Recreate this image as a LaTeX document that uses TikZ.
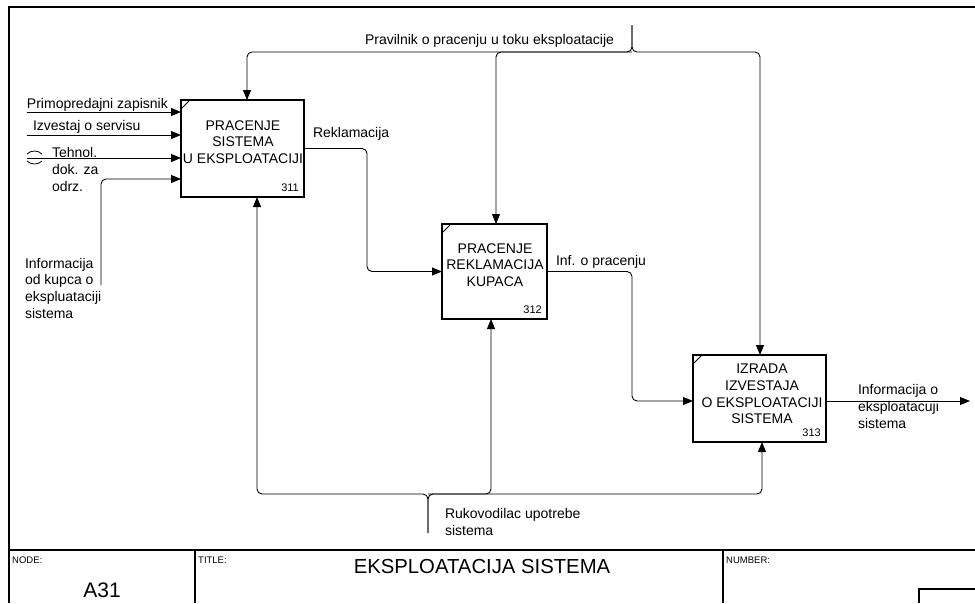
\documentclass[tikz,border=0pt]{standalone}
\usepackage{fontspec}
\setmainfont{Liberation Sans}
\usetikzlibrary{arrows.meta,calc}

\begin{document}
\begin{tikzpicture}[x=1pt,y=-1pt,
  txt/.style={font=\fontsize{14}{16.6}\selectfont, inner sep=0pt, outer sep=0pt, align=left},
  boxtxt/.style={font=\fontsize{14}{16.8}\selectfont, inner sep=0pt, align=center},
  numtxt/.style={font=\fontsize{11}{12}\selectfont, inner sep=0pt},
  small/.style={font=\fontsize{9.5}{10}\selectfont, inner sep=0pt},
  func/.style={draw, line width=1.7pt, inner sep=0pt, outer sep=0pt},
  wire/.style={line width=0.9pt, rounded corners=5pt},
  flow/.style={wire, -{Triangle[length=10pt,width=8pt]}},
  frame/.style={line width=1.3pt}
]
\useasboundingbox (0,0) rectangle (975,603);

% page frame and footer
\draw[frame] (975,7) -- (9,7) -- (9,603);
\draw[frame] (9,550) -- (975,550);
\draw[frame] (195,550) -- (195,603);
\draw[frame] (723,550) -- (723,603);
\draw[frame] (919,603) -- (919,589) -- (975,589);
\node[small, anchor=base west] (nodelbl) at (12,563) {NODE:};
\node[font=\fontsize{21}{22}\selectfont, inner sep=0pt, anchor=base] (nodeid) at (102,597) {A31};
\node[small, anchor=base west] (titlelbl) at (198,563) {TITLE:};
\node[font=\fontsize{20.3}{22}\selectfont, inner sep=0pt, anchor=base] (title) at (482,573) {EKSPLOATACIJA SISTEMA};
\node[small, anchor=base west] (numlbl) at (726,563) {NUMBER:};

% activity boxes
\node[func, minimum width=123pt, minimum height=97pt] (b311) at (242.5,148.5) {};
\node[func, minimum width=105pt, minimum height=95pt] (b312) at (494.5,271.5) {};
\node[func, minimum width=133pt, minimum height=87pt] (b313) at (759.5,398.5) {};

\node[boxtxt] (t311) at ($(b311.center)+(0.5,-6.5)$) {PRACENJE\\SISTEMA\\U EKSPLOATACIJI};
\node[boxtxt] (t312) at ($(b312.center)+(0.5,-6.5)$) {PRACENJE\\REKLAMACIJA\\KUPACA};
\node[boxtxt] (t313) at ($(b313.center)+(2.5,-4.5)$) {IZRADA\\IZVESTAJA\\O EKSPLOATACIJI\\SISTEMA};

\node[numtxt, anchor=base east] (n311) at ($(b311.south east)+(-5,-6)$) {311};
\node[numtxt, anchor=base east] (n312) at ($(b312.south east)+(-5,-6)$) {312};
\node[numtxt, anchor=base east] (n313) at ($(b313.south east)+(-5,-6)$) {313};

\foreach \b in {b311,b312,b313}
  \draw[line width=0.9pt] (\b.north west) ++(1,8) -- ++(7,-7);

% entry points on the boxes
\coordinate (i1) at ($(b311.north west)+(0,12)$);
\coordinate (i2) at ($(b311.north west)+(0,35)$);
\coordinate (i3) at ($(b311.north west)+(0,58)$);
\coordinate (i4) at ($(b311.north west)+(0,79)$);
\coordinate (c311) at ($(b311.north west)+(66,0)$);
\coordinate (m311) at ($(b311.south west)+(76,0)$);
\coordinate (c312) at ($(b312.north west)+(54,0)$);
\coordinate (m312) at ($(b312.south west)+(49,0)$);
\coordinate (i313) at ($(b313.north west)+(0,46)$);
\coordinate (c313) at ($(b313.north west)+(67,0)$);
\coordinate (m313) at ($(b313.south west)+(69,0)$);
\coordinate (o313) at ($(b313.north east)+(0,46)$);

% free ends of the arrows
\coordinate (s1) at (27,112);
\coordinate (s2) at (27,135);
\coordinate (s3) at (27,158);
\coordinate (s4) at (101,285);
\coordinate (ctlsrc) at (632,25);
\coordinate (ctlj) at (632,52);
\coordinate (mecsrc) at (428,533);
\coordinate (mecj) at (428,494);
\coordinate (outend) at (970,401);

% inputs
\draw[flow] (s1) -- (i1);
\draw[flow] (s2) -- (i2);
\draw[flow] (s3) -- (i3);
\draw[flow] (s4) |- (i4);
\draw[line width=0.8pt] (27,154) .. controls (31,150) and (38,150) .. (42,154);
\draw[line width=0.8pt] (27,161) .. controls (31,165) and (38,165) .. (42,161);

% outputs
\draw[flow] (b311.east) -- (367,148.5) |- (b312.west);
\draw[flow] (b312.east) -- (632,271.5) |- (i313);
\draw[flow] (o313) -- (outend);

% controls
\draw[flow] (ctlsrc) -- (ctlj) -| (c311);
\draw[flow] (ctlsrc) -- (ctlj) -| (c313);
\draw[flow] (ctlj) -| (c312);

% mechanisms
\draw[flow] (mecsrc) -- (mecj) -| (m311);
\draw[flow] (mecsrc) -- (mecj) -| (m313);
\draw[flow] (mecj) -| (m312);

% arrow labels (multi-line labels are placed by the baseline of their last line)
\node[txt, anchor=base west] (l1) at (27,108) {Primopredajni zapisnik};
\node[txt, anchor=base west] (l2) at (33,130) {Izvestaj o servisu};
\node[txt, anchor=base west, font=\fontsize{14}{17}\selectfont] (l3) at (52,191) {Tehnol.\\dok. za\\odrz.};
\node[txt, anchor=base west] (l4) at (25,318) {Informacija\\od kupca o\\ekspluataciji\\sistema};
\node[txt, anchor=base west] (l5) at (313,137) {Reklamacija};
\node[txt, anchor=base west] (l6) at (365,44) {Pravilnik o pracenju u toku eksploatacije};
\node[txt, anchor=base west] (l7) at (556,265) {Inf. o pracenju};
\node[txt, anchor=base west] (l8) at (858,428) {Informacija o\\eksploatacuji\\sistema};
\node[txt, anchor=base west] (l9) at (445,535) {Rukovodilac upotrebe\\sistema};
\end{tikzpicture}
\end{document}
